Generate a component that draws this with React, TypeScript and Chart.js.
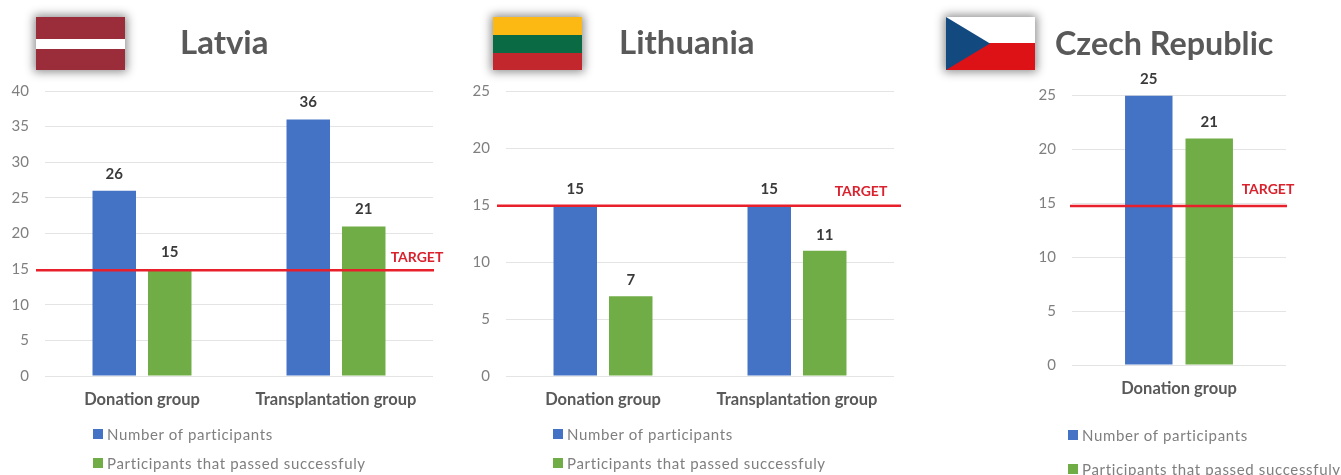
import React, { useEffect, useRef } from "react";
import { Chart, registerables } from "chart.js";

Chart.register(...registerables);

const FONT = "Lato, 'Open Sans', sans-serif";
const BLUE = "#4472C4";
const GREEN = "#70AD47";
const RED = "#E8202C";

const seriesNames = ["Number of participants", "Participants that passed successfuly"];
const targetName = "TARGET";

const latviaGroups = ["Donation group", "Transplantation group"];
const latviaParticipants = [26, 36];
const latviaPassed = [15, 21];
const latviaTarget = 14.85;
const latviaTicks = [0, 5, 10, 15, 20, 25, 30, 35, 40];

const lithuaniaGroups = ["Donation group", "Transplantation group"];
const lithuaniaParticipants = [15, 15];
const lithuaniaPassed = [7, 11];
const lithuaniaTarget = 14.95;
const lithuaniaTicks = [0, 5, 10, 15, 20, 25];

const czechGroups = ["Donation group"];
const czechParticipants = [25];
const czechPassed = [21];
const czechTarget = 14.75;
const czechTicks = [0, 5, 10, 15, 20, 25];

type Panel = {
  title: string; titleX: number; titleY: number; titleSize: number;
  flagX: number;
  groups: string[]; a: number[]; b: number[]; target: number; ticks: number[];
  canvasX: number; canvasW: number;
  left: number; right: number; top: number; bottom: number;
  cat: number; bar: number;
  spanL: number; spanR: number;
  targetDx: number; targetDy: number;
  labelGap: number; xLabelPad: number;
  legendX: number; legendY: number[];
};

const panels: Panel[] = [
  {
    title: "Latvia", titleX: 180, titleY: 41, titleSize: 33, flagX: 36,
    groups: latviaGroups, a: latviaParticipants, b: latviaPassed, target: latviaTarget, ticks: latviaTicks,
    canvasX: 0, canvasW: 460, left: 45, right: 433, top: 91, bottom: 376,
    cat: 0.572, bar: 0.784, spanL: 36, spanR: 434, targetDx: 417, targetDy: -13,
    labelGap: 17, xLabelPad: 6, legendX: 93, legendY: [434, 463],
  },
  {
    title: "Lithuania", titleX: 619, titleY: 41, titleSize: 33, flagX: 493,
    groups: lithuaniaGroups, a: lithuaniaParticipants, b: lithuaniaPassed, target: lithuaniaTarget, ticks: lithuaniaTicks,
    canvasX: 460, canvasW: 460, left: 506, right: 894, top: 91.5, bottom: 376,
    cat: 0.572, bar: 0.784, spanL: 497, spanR: 901, targetDx: 861, targetDy: -14,
    labelGap: 16, xLabelPad: 6, legendX: 553, legendY: [434, 463],
  },
  {
    title: "Czech Republic", titleX: 1055, titleY: 42, titleSize: 32.3, flagX: 946,
    groups: czechGroups, a: czechParticipants, b: czechPassed, target: czechTarget, ticks: czechTicks,
    canvasX: 920, canvasW: 421, left: 1072, right: 1286, top: 95.5, bottom: 365,
    cat: 0.565, bar: 0.785, spanL: 1070, spanR: 1287, targetDx: 1268, targetDy: -17,
    labelGap: 16, xLabelPad: 6, legendX: 1068, legendY: [435, 469],
  },
];

function PanelChart({ p }: { p: Panel }) {
  const ref = useRef<HTMLCanvasElement>(null);
  useEffect(() => {
    const annotate = {
      id: "annotate",
      afterDatasetsDraw(chart: any) {
        const { ctx } = chart;
        ctx.save();
        const y = chart.scales.y.getPixelForValue(p.target);
        ctx.strokeStyle = RED;
        ctx.lineWidth = 2.5;
        ctx.beginPath();
        ctx.moveTo(p.spanL - p.canvasX, y);
        ctx.lineTo(p.spanR - p.canvasX, y);
        ctx.stroke();
        ctx.textAlign = "center";
        ctx.textBaseline = "middle";
        ctx.fillStyle = "#3a3a3a";
        ctx.font = `bold 15px ${FONT}`;
        [0, 1].forEach((di) => {
          chart.getDatasetMeta(di).data.forEach((el: any, i: number) => {
            ctx.fillText(String(chart.data.datasets[di].data[i]), el.x, el.y - p.labelGap);
          });
        });
        ctx.fillStyle = "#D9222E";
        ctx.font = `bold 14px ${FONT}`;
        ctx.fillText(targetName, p.targetDx - p.canvasX, y + p.targetDy);
        ctx.restore();
      },
    };
    const chart = new Chart(ref.current as HTMLCanvasElement, {
      type: "bar",
      data: {
        labels: p.groups,
        datasets: [
          { label: seriesNames[0], data: p.a, backgroundColor: BLUE, categoryPercentage: p.cat, barPercentage: p.bar },
          { label: seriesNames[1], data: p.b, backgroundColor: GREEN, categoryPercentage: p.cat, barPercentage: p.bar },
        ],
      },
      options: {
        animation: false,
        responsive: false,
        layout: {
          autoPadding: false,
          padding: { left: 0, top: p.top, right: p.canvasX + p.canvasW - p.right, bottom: 0 },
        },
        plugins: { legend: { display: false }, title: { display: false }, tooltip: { enabled: false } },
        scales: {
          x: {
            grid: { display: false },
            border: { display: false },
            ticks: { color: "#595959", font: { family: FONT, size: 16.5, weight: "bold" }, padding: p.xLabelPad, maxRotation: 0 },
            afterFit: (s: any) => { s.height = 475 - p.bottom; },
          },
          y: {
            min: 0,
            max: p.ticks[p.ticks.length - 1],
            afterBuildTicks: (s: any) => { s.ticks = p.ticks.map((value) => ({ value })); },
            grid: { color: "#E4E4E4", lineWidth: 1, drawTicks: false },
            border: { display: false },
            ticks: { color: "#7F7F7F", font: { family: FONT, size: 15 }, padding: 16 },
            afterFit: (s: any) => { s.width = p.left - p.canvasX; },
          },
        },
      } as any,
      plugins: [annotate],
    } as any);
    return () => chart.destroy();
  }, [p]);
  return (
    <canvas
      ref={ref}
      width={p.canvasW}
      height={475}
      style={{ position: "absolute", left: p.canvasX, top: 0, width: p.canvasW, height: 475 }}
    />
  );
}

function Flag({ x, kind }: { x: number; kind: string }) {
  const base: React.CSSProperties = {
    position: "absolute", left: x, top: 17, width: 89, height: 53,
    boxShadow: "0 0 9px 2px rgba(0,0,0,0.45)", overflow: "hidden",
  };
  if (kind === "Latvia") {
    return <div style={{ ...base, background: "linear-gradient(#9B2D3A 0 22px, #fff 22px 32px, #9B2D3A 32px)" }} />;
  }
  if (kind === "Lithuania") {
    return <div style={{ ...base, background: "linear-gradient(#FDB913 0 18px, #0A6A44 18px 36px, #C1272D 36px)" }} />;
  }
  return (
    <div style={{ ...base, background: "linear-gradient(#fff 0 26px, #DD1217 26px)" }}>
      <div style={{ position: "absolute", left: 0, top: 0, width: 44, height: 53, background: "#124A80", clipPath: "polygon(0 0, 100% 50%, 0 100%)" }} />
    </div>
  );
}

export default function App() {
  return (
    <div style={{ position: "fixed", left: 0, top: 0, width: 1341, height: 475, overflow: "hidden", background: "#fff", fontFamily: FONT, filter: "blur(0.5px)" }}>
      {panels.map((p) => (
        <React.Fragment key={p.title}>
          <PanelChart p={p} />
          <Flag x={p.flagX} kind={p.title} />
          <div style={{ position: "absolute", left: p.titleX, top: p.titleY, transform: "translateY(-50%)", fontSize: p.titleSize, fontWeight: 700, color: "#595959", whiteSpace: "nowrap" }}>
            {p.title}
          </div>
          {seriesNames.map((name, i) => (
            <div key={name} style={{ position: "absolute", left: p.legendX, top: p.legendY[i], transform: "translateY(-50%)", display: "flex", alignItems: "center", fontSize: 15, letterSpacing: 0.65, color: "#7F7F7F", whiteSpace: "nowrap" }}>
              <span style={{ display: "inline-block", width: 10, height: 10, background: i === 0 ? BLUE : GREEN, marginRight: 4 }} />
              {name}
            </div>
          ))}
        </React.Fragment>
      ))}
    </div>
  );
}
